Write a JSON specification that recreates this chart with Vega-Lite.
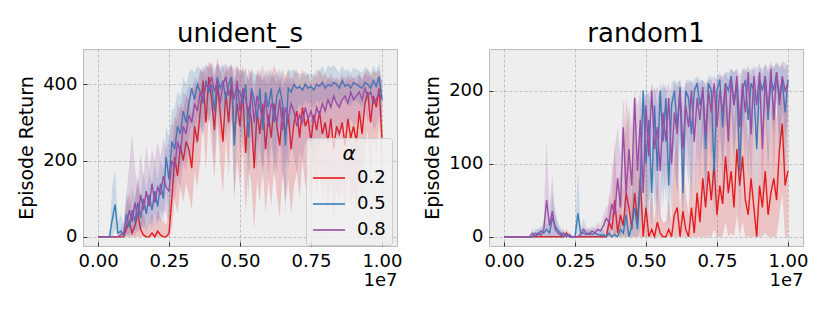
{
"$schema": "https://vega.github.io/schema/vega-lite/v6.json",
"background": "white",
"padding": {"left": 17, "top": 20, "right": 20, "bottom": 14},
"datasets": {
"u": [
{"s":0,"r":0,"rl":0,"rh":0,"b":0,"bl":0,"bh":0,"p":0,"pl":0,"ph":0},
{"s":100000,"r":0,"rl":0,"rh":0,"b":0,"bl":0,"bh":0,"p":0,"pl":0,"ph":0},
{"s":200000,"r":0,"rl":0,"rh":0,"b":0,"bl":0,"bh":0,"p":0,"pl":0,"ph":0},
{"s":300000,"r":0,"rl":0,"rh":0,"b":0,"bl":0,"bh":0,"p":0,"pl":0,"ph":0},
{"s":400000,"r":0,"rl":0,"rh":0,"b":0,"bl":0,"bh":0,"p":0,"pl":0,"ph":0},
{"s":500000,"r":0,"rl":0,"rh":0,"b":45,"bl":0,"bh":130,"p":0,"pl":0,"ph":0},
{"s":600000,"r":0,"rl":0,"rh":0,"b":85,"bl":20,"bh":175,"p":0,"pl":0,"ph":0},
{"s":700000,"r":0,"rl":0,"rh":0,"b":10,"bl":0,"bh":40,"p":0,"pl":0,"ph":0},
{"s":800000,"r":0,"rl":0,"rh":0,"b":15,"bl":0,"bh":60,"p":5,"pl":0,"ph":20},
{"s":900000,"r":0,"rl":0,"rh":0,"b":5,"bl":0,"bh":30,"p":10,"pl":0,"ph":40},
{"s":1000000,"r":20,"rl":0,"rh":80,"b":60,"bl":10,"bh":120,"p":30,"pl":0,"ph":110},
{"s":1100000,"r":40,"rl":0,"rh":120,"b":25,"bl":0,"bh":80,"p":70,"pl":10,"ph":190},
{"s":1200000,"r":10,"rl":0,"rh":60,"b":70,"bl":20,"bh":130,"p":40,"pl":0,"ph":270},
{"s":1300000,"r":30,"rl":0,"rh":100,"b":40,"bl":0,"bh":100,"p":90,"pl":20,"ph":180},
{"s":1400000,"r":60,"rl":0,"rh":150,"b":90,"bl":30,"bh":150,"p":50,"pl":10,"ph":140},
{"s":1500000,"r":20,"rl":0,"rh":90,"b":50,"bl":10,"bh":110,"p":110,"pl":30,"ph":220},
{"s":1600000,"r":5,"rl":0,"rh":60,"b":100,"bl":40,"bh":170,"p":70,"pl":20,"ph":160},
{"s":1700000,"r":0,"rl":0,"rh":30,"b":60,"bl":10,"bh":120,"p":120,"pl":40,"ph":240},
{"s":1800000,"r":0,"rl":0,"rh":40,"b":110,"bl":50,"bh":170,"p":80,"pl":30,"ph":180},
{"s":1900000,"r":10,"rl":0,"rh":60,"b":70,"bl":20,"bh":140,"p":140,"pl":50,"ph":230},
{"s":2000000,"r":0,"rl":0,"rh":30,"b":120,"bl":60,"bh":190,"p":90,"pl":30,"ph":200},
{"s":2100000,"r":15,"rl":0,"rh":70,"b":80,"bl":30,"bh":150,"p":130,"pl":50,"ph":250},
{"s":2200000,"r":5,"rl":0,"rh":50,"b":140,"bl":70,"bh":200,"p":110,"pl":40,"ph":210},
{"s":2300000,"r":0,"rl":0,"rh":40,"b":100,"bl":40,"bh":180,"p":160,"pl":70,"ph":260},
{"s":2400000,"r":0,"rl":0,"rh":30,"b":210,"bl":120,"bh":290,"p":130,"pl":60,"ph":230},
{"s":2500000,"r":10,"rl":0,"rh":80,"b":150,"bl":60,"bh":260,"p":120,"pl":40,"ph":250},
{"s":2600000,"r":100,"rl":20,"rh":220,"b":250,"bl":150,"bh":330,"p":200,"pl":110,"ph":300},
{"s":2700000,"r":210,"rl":100,"rh":320,"b":230,"bl":140,"bh":340,"p":180,"pl":100,"ph":290},
{"s":2800000,"r":160,"rl":60,"rh":300,"b":290,"bl":190,"bh":380,"p":250,"pl":150,"ph":350},
{"s":2900000,"r":240,"rl":130,"rh":350,"b":270,"bl":170,"bh":370,"p":220,"pl":130,"ph":330},
{"s":3000000,"r":200,"rl":90,"rh":330,"b":330,"bl":230,"bh":420,"p":290,"pl":190,"ph":380},
{"s":3100000,"r":250,"rl":140,"rh":370,"b":300,"bl":200,"bh":400,"p":270,"pl":170,"ph":370},
{"s":3200000,"r":230,"rl":110,"rh":360,"b":350,"bl":260,"bh":430,"p":320,"pl":220,"ph":400},
{"s":3300000,"r":180,"rl":70,"rh":320,"b":390,"bl":300,"bh":440,"p":300,"pl":200,"ph":390},
{"s":3400000,"r":290,"rl":170,"rh":400,"b":360,"bl":270,"bh":430,"p":350,"pl":250,"ph":420},
{"s":3500000,"r":250,"rl":130,"rh":390,"b":400,"bl":320,"bh":450,"p":330,"pl":240,"ph":410},
{"s":3600000,"r":330,"rl":200,"rh":430,"b":380,"bl":300,"bh":440,"p":380,"pl":290,"ph":440},
{"s":3700000,"r":410,"rl":320,"rh":450,"b":350,"bl":260,"bh":430,"p":360,"pl":270,"ph":430},
{"s":3800000,"r":300,"rl":170,"rh":420,"b":410,"bl":340,"bh":455,"p":400,"pl":320,"ph":450},
{"s":3900000,"r":420,"rl":330,"rh":460,"b":380,"bl":300,"bh":440,"p":390,"pl":300,"ph":445},
{"s":4000000,"r":360,"rl":240,"rh":450,"b":400,"bl":330,"bh":450,"p":420,"pl":340,"ph":460},
{"s":4100000,"r":280,"rl":150,"rh":410,"b":330,"bl":200,"bh":420,"p":380,"pl":290,"ph":440},
{"s":4200000,"r":400,"rl":300,"rh":470,"b":420,"bl":360,"bh":455,"p":410,"pl":330,"ph":455},
{"s":4300000,"r":330,"rl":200,"rh":440,"b":390,"bl":310,"bh":445,"p":350,"pl":250,"ph":430},
{"s":4400000,"r":250,"rl":110,"rh":400,"b":410,"bl":340,"bh":450,"p":400,"pl":320,"ph":450},
{"s":4500000,"r":380,"rl":260,"rh":450,"b":360,"bl":250,"bh":430,"p":420,"pl":350,"ph":455},
{"s":4600000,"r":300,"rl":160,"rh":430,"b":400,"bl":320,"bh":450,"p":370,"pl":270,"ph":440},
{"s":4700000,"r":410,"rl":310,"rh":455,"b":420,"bl":350,"bh":450,"p":400,"pl":310,"ph":450},
{"s":4800000,"r":260,"rl":110,"rh":410,"b":240,"bl":80,"bh":400,"p":360,"pl":250,"ph":440},
{"s":4900000,"r":350,"rl":200,"rh":450,"b":390,"bl":300,"bh":440,"p":410,"pl":330,"ph":450},
{"s":5000000,"r":290,"rl":130,"rh":430,"b":380,"bl":290,"bh":440,"p":330,"pl":220,"ph":420},
{"s":5100000,"r":380,"rl":240,"rh":450,"b":350,"bl":230,"bh":430,"p":390,"pl":300,"ph":440},
{"s":5200000,"r":220,"rl":60,"rh":390,"b":400,"bl":320,"bh":445,"p":360,"pl":260,"ph":430},
{"s":5300000,"r":340,"rl":180,"rh":440,"b":260,"bl":100,"bh":410,"p":320,"pl":200,"ph":410},
{"s":5400000,"r":310,"rl":140,"rh":430,"b":390,"bl":290,"bh":440,"p":380,"pl":280,"ph":440},
{"s":5500000,"r":180,"rl":20,"rh":370,"b":360,"bl":240,"bh":430,"p":300,"pl":170,"ph":400},
{"s":5600000,"r":330,"rl":150,"rh":440,"b":310,"bl":170,"bh":420,"p":370,"pl":260,"ph":430},
{"s":5700000,"r":270,"rl":90,"rh":420,"b":390,"bl":300,"bh":440,"p":340,"pl":220,"ph":420},
{"s":5800000,"r":350,"rl":190,"rh":450,"b":280,"bl":130,"bh":410,"p":310,"pl":180,"ph":410},
{"s":5900000,"r":230,"rl":60,"rh":400,"b":380,"bl":280,"bh":440,"p":360,"pl":250,"ph":430},
{"s":6000000,"r":320,"rl":150,"rh":440,"b":340,"bl":200,"bh":420,"p":290,"pl":160,"ph":400},
{"s":6100000,"r":260,"rl":80,"rh":420,"b":390,"bl":290,"bh":440,"p":350,"pl":240,"ph":420},
{"s":6200000,"r":350,"rl":180,"rh":450,"b":300,"bl":150,"bh":420,"p":330,"pl":210,"ph":420},
{"s":6300000,"r":290,"rl":110,"rh":430,"b":370,"bl":250,"bh":430,"p":300,"pl":170,"ph":400},
{"s":6400000,"r":240,"rl":50,"rh":410,"b":390,"bl":290,"bh":440,"p":360,"pl":250,"ph":430},
{"s":6500000,"r":340,"rl":170,"rh":440,"b":350,"bl":220,"bh":420,"p":280,"pl":140,"ph":390},
{"s":6600000,"r":270,"rl":90,"rh":420,"b":240,"bl":60,"bh":400,"p":340,"pl":220,"ph":420},
{"s":6700000,"r":320,"rl":150,"rh":440,"b":390,"bl":290,"bh":440,"p":310,"pl":180,"ph":410},
{"s":6800000,"r":230,"rl":60,"rh":400,"b":380,"bl":280,"bh":435,"p":350,"pl":240,"ph":420},
{"s":6900000,"r":300,"rl":130,"rh":430,"b":400,"bl":320,"bh":440,"p":330,"pl":210,"ph":410},
{"s":7000000,"r":330,"rl":170,"rh":440,"b":390,"bl":330,"bh":430,"p":290,"pl":170,"ph":390},
{"s":7100000,"r":260,"rl":100,"rh":410,"b":395,"bl":350,"bh":430,"p":320,"pl":220,"ph":400},
{"s":7200000,"r":340,"rl":200,"rh":440,"b":385,"bl":340,"bh":425,"p":300,"pl":200,"ph":390},
{"s":7300000,"r":290,"rl":130,"rh":420,"b":400,"bl":360,"bh":435,"p":340,"pl":250,"ph":410},
{"s":7400000,"r":310,"rl":160,"rh":430,"b":390,"bl":350,"bh":425,"p":310,"pl":210,"ph":395},
{"s":7500000,"r":250,"rl":80,"rh":400,"b":395,"bl":350,"bh":430,"p":330,"pl":240,"ph":405},
{"s":7600000,"r":320,"rl":170,"rh":430,"b":385,"bl":340,"bh":420,"p":300,"pl":200,"ph":390},
{"s":7700000,"r":280,"rl":110,"rh":420,"b":400,"bl":360,"bh":440,"p":340,"pl":250,"ph":410},
{"s":7800000,"r":330,"rl":180,"rh":440,"b":395,"bl":350,"bh":435,"p":320,"pl":230,"ph":400},
{"s":7900000,"r":270,"rl":90,"rh":420,"b":405,"bl":360,"bh":450,"p":350,"pl":270,"ph":415},
{"s":8000000,"r":300,"rl":140,"rh":430,"b":390,"bl":345,"bh":430,"p":330,"pl":250,"ph":400},
{"s":8100000,"r":250,"rl":60,"rh":410,"b":400,"bl":355,"bh":450,"p":360,"pl":280,"ph":420},
{"s":8200000,"r":310,"rl":150,"rh":430,"b":395,"bl":350,"bh":445,"p":340,"pl":260,"ph":410},
{"s":8300000,"r":230,"rl":40,"rh":400,"b":405,"bl":360,"bh":450,"p":370,"pl":300,"ph":420},
{"s":8400000,"r":290,"rl":120,"rh":420,"b":400,"bl":355,"bh":440,"p":350,"pl":270,"ph":410},
{"s":8500000,"r":270,"rl":90,"rh":410,"b":390,"bl":340,"bh":430,"p":340,"pl":260,"ph":400},
{"s":8600000,"r":300,"rl":140,"rh":430,"b":410,"bl":370,"bh":450,"p":360,"pl":290,"ph":415},
{"s":8700000,"r":240,"rl":60,"rh":400,"b":395,"bl":350,"bh":435,"p":370,"pl":300,"ph":420},
{"s":8800000,"r":310,"rl":160,"rh":430,"b":400,"bl":355,"bh":440,"p":350,"pl":280,"ph":410},
{"s":8900000,"r":260,"rl":80,"rh":410,"b":390,"bl":340,"bh":430,"p":380,"pl":310,"ph":425},
{"s":9000000,"r":290,"rl":120,"rh":420,"b":405,"bl":360,"bh":445,"p":360,"pl":290,"ph":415},
{"s":9100000,"r":250,"rl":60,"rh":400,"b":400,"bl":355,"bh":440,"p":370,"pl":300,"ph":420},
{"s":9200000,"r":330,"rl":180,"rh":430,"b":395,"bl":350,"bh":435,"p":380,"pl":320,"ph":425},
{"s":9300000,"r":270,"rl":90,"rh":410,"b":390,"bl":340,"bh":430,"p":360,"pl":290,"ph":415},
{"s":9400000,"r":350,"rl":220,"rh":430,"b":405,"bl":360,"bh":445,"p":390,"pl":330,"ph":430},
{"s":9500000,"r":380,"rl":280,"rh":440,"b":400,"bl":355,"bh":440,"p":370,"pl":300,"ph":420},
{"s":9600000,"r":300,"rl":150,"rh":420,"b":390,"bl":345,"bh":430,"p":380,"pl":320,"ph":425},
{"s":9700000,"r":370,"rl":260,"rh":435,"b":410,"bl":370,"bh":450,"p":350,"pl":280,"ph":410},
{"s":9800000,"r":340,"rl":210,"rh":430,"b":395,"bl":350,"bh":435,"p":360,"pl":290,"ph":415},
{"s":9900000,"r":390,"rl":300,"rh":440,"b":420,"bl":380,"bh":455,"p":380,"pl":320,"ph":425},
{"s":10000000,"r":260,"rl":100,"rh":400,"b":360,"bl":310,"bh":410,"p":360,"pl":300,"ph":410}
],
"r": [
{"s":0,"r":0,"rl":0,"rh":0,"b":0,"bl":0,"bh":0,"p":0,"pl":0,"ph":0},
{"s":100000,"r":0,"rl":0,"rh":0,"b":0,"bl":0,"bh":0,"p":0,"pl":0,"ph":0},
{"s":200000,"r":0,"rl":0,"rh":0,"b":0,"bl":0,"bh":0,"p":0,"pl":0,"ph":0},
{"s":300000,"r":0,"rl":0,"rh":0,"b":0,"bl":0,"bh":0,"p":0,"pl":0,"ph":0},
{"s":400000,"r":0,"rl":0,"rh":0,"b":0,"bl":0,"bh":0,"p":0,"pl":0,"ph":0},
{"s":500000,"r":0,"rl":0,"rh":0,"b":0,"bl":0,"bh":0,"p":0,"pl":0,"ph":0},
{"s":600000,"r":0,"rl":0,"rh":0,"b":0,"bl":0,"bh":0,"p":0,"pl":0,"ph":0},
{"s":700000,"r":0,"rl":0,"rh":0,"b":0,"bl":0,"bh":0,"p":0,"pl":0,"ph":0},
{"s":800000,"r":0,"rl":0,"rh":0,"b":0,"bl":0,"bh":0,"p":0,"pl":0,"ph":0},
{"s":900000,"r":0,"rl":0,"rh":0,"b":0,"bl":0,"bh":0,"p":0,"pl":0,"ph":0},
{"s":1000000,"r":0,"rl":0,"rh":0,"b":0,"bl":0,"bh":0,"p":5,"pl":0,"ph":12},
{"s":1100000,"r":0,"rl":0,"rh":0,"b":5,"bl":0,"bh":12,"p":0,"pl":0,"ph":0},
{"s":1200000,"r":0,"rl":0,"rh":0,"b":3,"bl":0,"bh":10,"p":5,"pl":0,"ph":12},
{"s":1300000,"r":0,"rl":0,"rh":0,"b":8,"bl":0,"bh":15,"p":2,"pl":0,"ph":8},
{"s":1400000,"r":0,"rl":0,"rh":0,"b":5,"bl":0,"bh":12,"p":10,"pl":0,"ph":25},
{"s":1500000,"r":0,"rl":0,"rh":0,"b":10,"bl":0,"bh":20,"p":50,"pl":0,"ph":135},
{"s":1600000,"r":0,"rl":0,"rh":0,"b":5,"bl":0,"bh":12,"p":15,"pl":0,"ph":40},
{"s":1700000,"r":0,"rl":0,"rh":0,"b":25,"bl":0,"bh":60,"p":35,"pl":0,"ph":85},
{"s":1800000,"r":0,"rl":0,"rh":0,"b":15,"bl":0,"bh":35,"p":10,"pl":0,"ph":30},
{"s":1900000,"r":0,"rl":0,"rh":0,"b":8,"bl":0,"bh":20,"p":5,"pl":0,"ph":15},
{"s":2000000,"r":0,"rl":0,"rh":0,"b":5,"bl":0,"bh":12,"p":2,"pl":0,"ph":8},
{"s":2100000,"r":0,"rl":0,"rh":0,"b":0,"bl":0,"bh":0,"p":5,"pl":0,"ph":12},
{"s":2200000,"r":5,"rl":0,"rh":12,"b":3,"bl":0,"bh":8,"p":0,"pl":0,"ph":0},
{"s":2300000,"r":0,"rl":0,"rh":0,"b":0,"bl":0,"bh":0,"p":3,"pl":0,"ph":8},
{"s":2400000,"r":0,"rl":0,"rh":0,"b":0,"bl":0,"bh":0,"p":0,"pl":0,"ph":0},
{"s":2500000,"r":0,"rl":0,"rh":0,"b":0,"bl":0,"bh":0,"p":0,"pl":0,"ph":0},
{"s":2600000,"r":0,"rl":0,"rh":0,"b":32,"bl":0,"bh":95,"p":0,"pl":0,"ph":0},
{"s":2700000,"r":0,"rl":0,"rh":0,"b":5,"bl":0,"bh":12,"p":3,"pl":0,"ph":8},
{"s":2800000,"r":0,"rl":0,"rh":0,"b":5,"bl":0,"bh":12,"p":10,"pl":0,"ph":25},
{"s":2900000,"r":0,"rl":0,"rh":0,"b":3,"bl":0,"bh":10,"p":5,"pl":0,"ph":12},
{"s":3000000,"r":0,"rl":0,"rh":0,"b":5,"bl":0,"bh":12,"p":3,"pl":0,"ph":10},
{"s":3100000,"r":0,"rl":0,"rh":0,"b":3,"bl":0,"bh":8,"p":8,"pl":0,"ph":15},
{"s":3200000,"r":0,"rl":0,"rh":0,"b":5,"bl":0,"bh":12,"p":5,"pl":0,"ph":12},
{"s":3300000,"r":0,"rl":0,"rh":0,"b":3,"bl":0,"bh":10,"p":10,"pl":0,"ph":20},
{"s":3400000,"r":0,"rl":0,"rh":0,"b":2,"bl":0,"bh":8,"p":8,"pl":0,"ph":15},
{"s":3500000,"r":0,"rl":0,"rh":0,"b":3,"bl":0,"bh":10,"p":15,"pl":0,"ph":30},
{"s":3600000,"r":0,"rl":0,"rh":0,"b":0,"bl":0,"bh":0,"p":25,"pl":5,"ph":40},
{"s":3700000,"r":20,"rl":0,"rh":60,"b":5,"bl":0,"bh":12,"p":20,"pl":0,"ph":45},
{"s":3800000,"r":10,"rl":0,"rh":40,"b":0,"bl":0,"bh":0,"p":45,"pl":10,"ph":90},
{"s":3900000,"r":50,"rl":0,"rh":130,"b":3,"bl":0,"bh":10,"p":30,"pl":0,"ph":120},
{"s":4000000,"r":5,"rl":0,"rh":30,"b":0,"bl":0,"bh":0,"p":80,"pl":20,"ph":150},
{"s":4100000,"r":30,"rl":0,"rh":90,"b":10,"bl":0,"bh":30,"p":40,"pl":0,"ph":110},
{"s":4200000,"r":15,"rl":0,"rh":60,"b":5,"bl":0,"bh":15,"p":150,"pl":60,"ph":190},
{"s":4300000,"r":60,"rl":0,"rh":190,"b":30,"bl":0,"bh":80,"p":60,"pl":10,"ph":140},
{"s":4400000,"r":40,"rl":0,"rh":150,"b":0,"bl":0,"bh":0,"p":120,"pl":40,"ph":180},
{"s":4500000,"r":10,"rl":0,"rh":50,"b":15,"bl":0,"bh":50,"p":70,"pl":10,"ph":150},
{"s":4600000,"r":60,"rl":0,"rh":160,"b":40,"bl":0,"bh":110,"p":190,"pl":100,"ph":200},
{"s":4700000,"r":20,"rl":0,"rh":80,"b":10,"bl":0,"bh":40,"p":90,"pl":20,"ph":180},
{"s":4800000,"r":80,"rl":0,"rh":190,"b":70,"bl":10,"bh":160,"p":160,"pl":60,"ph":200},
{"s":4900000,"r":0,"rl":0,"rh":20,"b":200,"bl":120,"bh":200,"p":60,"pl":10,"ph":160},
{"s":5000000,"r":40,"rl":0,"rh":140,"b":100,"bl":20,"bh":190,"p":180,"pl":100,"ph":205},
{"s":5100000,"r":0,"rl":0,"rh":30,"b":160,"bl":60,"bh":200,"p":110,"pl":30,"ph":190},
{"s":5200000,"r":10,"rl":0,"rh":60,"b":60,"bl":10,"bh":150,"p":200,"pl":140,"ph":210},
{"s":5300000,"r":0,"rl":0,"rh":20,"b":180,"bl":90,"bh":205,"p":120,"pl":40,"ph":200},
{"s":5400000,"r":20,"rl":0,"rh":80,"b":90,"bl":20,"bh":180,"p":150,"pl":60,"ph":205},
{"s":5500000,"r":5,"rl":0,"rh":30,"b":200,"bl":130,"bh":210,"p":90,"pl":20,"ph":190},
{"s":5600000,"r":0,"rl":0,"rh":20,"b":130,"bl":40,"bh":200,"p":170,"pl":90,"ph":210},
{"s":5700000,"r":0,"rl":0,"rh":20,"b":190,"bl":100,"bh":210,"p":130,"pl":50,"ph":200},
{"s":5800000,"r":10,"rl":0,"rh":50,"b":70,"bl":10,"bh":170,"p":190,"pl":120,"ph":210},
{"s":5900000,"r":0,"rl":0,"rh":20,"b":180,"bl":90,"bh":210,"p":100,"pl":30,"ph":190},
{"s":6000000,"r":30,"rl":0,"rh":110,"b":200,"bl":130,"bh":215,"p":170,"pl":90,"ph":210},
{"s":6100000,"r":40,"rl":0,"rh":140,"b":150,"bl":60,"bh":210,"p":140,"pl":60,"ph":205},
{"s":6200000,"r":0,"rl":0,"rh":30,"b":205,"bl":150,"bh":215,"p":200,"pl":140,"ph":215},
{"s":6300000,"r":35,"rl":0,"rh":120,"b":60,"bl":10,"bh":170,"p":120,"pl":40,"ph":200},
{"s":6400000,"r":10,"rl":0,"rh":60,"b":200,"bl":140,"bh":215,"p":180,"pl":110,"ph":210},
{"s":6500000,"r":0,"rl":0,"rh":30,"b":190,"bl":110,"bh":215,"p":150,"pl":70,"ph":210},
{"s":6600000,"r":40,"rl":0,"rh":150,"b":140,"bl":50,"bh":210,"p":200,"pl":140,"ph":215},
{"s":6700000,"r":5,"rl":0,"rh":40,"b":200,"bl":140,"bh":215,"p":130,"pl":50,"ph":205},
{"s":6800000,"r":60,"rl":0,"rh":170,"b":210,"bl":160,"bh":220,"p":190,"pl":120,"ph":215},
{"s":6900000,"r":20,"rl":0,"rh":90,"b":180,"bl":100,"bh":215,"p":160,"pl":80,"ph":210},
{"s":7000000,"r":80,"rl":0,"rh":190,"b":200,"bl":140,"bh":215,"p":205,"pl":150,"ph":215},
{"s":7100000,"r":40,"rl":0,"rh":150,"b":120,"bl":40,"bh":205,"p":140,"pl":60,"ph":210},
{"s":7200000,"r":90,"rl":0,"rh":200,"b":210,"bl":160,"bh":220,"p":200,"pl":140,"ph":215},
{"s":7300000,"r":50,"rl":0,"rh":160,"b":200,"bl":140,"bh":220,"p":170,"pl":100,"ph":215},
{"s":7400000,"r":100,"rl":10,"rh":200,"b":90,"bl":20,"bh":190,"p":210,"pl":160,"ph":220},
{"s":7500000,"r":30,"rl":0,"rh":130,"b":200,"bl":140,"bh":220,"p":150,"pl":70,"ph":215},
{"s":7600000,"r":70,"rl":0,"rh":180,"b":215,"bl":170,"bh":225,"p":200,"pl":140,"ph":220},
{"s":7700000,"r":45,"rl":0,"rh":160,"b":150,"bl":60,"bh":215,"p":170,"pl":100,"ph":220},
{"s":7800000,"r":110,"rl":20,"rh":200,"b":210,"bl":160,"bh":225,"p":210,"pl":160,"ph":225},
{"s":7900000,"r":60,"rl":0,"rh":170,"b":200,"bl":140,"bh":225,"p":130,"pl":50,"ph":215},
{"s":8000000,"r":90,"rl":5,"rh":200,"b":220,"bl":180,"bh":230,"p":215,"pl":170,"ph":230},
{"s":8100000,"r":40,"rl":0,"rh":150,"b":180,"bl":100,"bh":225,"p":180,"pl":110,"ph":225},
{"s":8200000,"r":120,"rl":30,"rh":205,"b":210,"bl":160,"bh":230,"p":220,"pl":180,"ph":230},
{"s":8300000,"r":70,"rl":0,"rh":180,"b":90,"bl":20,"bh":200,"p":150,"pl":70,"ph":220},
{"s":8400000,"r":110,"rl":20,"rh":200,"b":200,"bl":140,"bh":230,"p":210,"pl":160,"ph":230},
{"s":8500000,"r":50,"rl":0,"rh":160,"b":215,"bl":170,"bh":230,"p":170,"pl":100,"ph":225},
{"s":8600000,"r":30,"rl":0,"rh":130,"b":160,"bl":80,"bh":225,"p":225,"pl":190,"ph":235},
{"s":8700000,"r":80,"rl":0,"rh":190,"b":210,"bl":160,"bh":230,"p":140,"pl":60,"ph":220},
{"s":8800000,"r":40,"rl":0,"rh":150,"b":200,"bl":140,"bh":230,"p":220,"pl":180,"ph":235},
{"s":8900000,"r":0,"rl":0,"rh":40,"b":120,"bl":40,"bh":215,"p":180,"pl":110,"ph":230},
{"s":9000000,"r":70,"rl":0,"rh":180,"b":215,"bl":170,"bh":232,"p":225,"pl":190,"ph":238},
{"s":9100000,"r":40,"rl":0,"rh":150,"b":200,"bl":140,"bh":230,"p":120,"pl":40,"ph":220},
{"s":9200000,"r":90,"rl":5,"rh":200,"b":220,"bl":180,"bh":235,"p":220,"pl":180,"ph":238},
{"s":9300000,"r":30,"rl":0,"rh":120,"b":160,"bl":80,"bh":225,"p":170,"pl":100,"ph":230},
{"s":9400000,"r":60,"rl":0,"rh":170,"b":215,"bl":170,"bh":235,"p":230,"pl":200,"ph":240},
{"s":9500000,"r":80,"rl":0,"rh":190,"b":200,"bl":140,"bh":232,"p":160,"pl":80,"ph":230},
{"s":9600000,"r":50,"rl":0,"rh":160,"b":225,"bl":190,"bh":238,"p":225,"pl":190,"ph":240},
{"s":9700000,"r":120,"rl":30,"rh":205,"b":190,"bl":110,"bh":232,"p":180,"pl":110,"ph":232},
{"s":9800000,"r":155,"rl":60,"rh":210,"b":215,"bl":170,"bh":235,"p":220,"pl":180,"ph":240},
{"s":9900000,"r":70,"rl":0,"rh":180,"b":170,"bl":90,"bh":230,"p":200,"pl":140,"ph":238},
{"s":10000000,"r":90,"rl":0,"rh":200,"b":215,"bl":170,"bh":235,"p":210,"pl":160,"ph":235}
]
},
"config": {
  "font": "DejaVu Sans",
  "view": {"fill": "#eeeeee", "stroke": "#bcbcbc", "strokeWidth": 1},
  "axis": {
    "grid": true, "gridColor": "#b2b2b2", "gridDash": [3, 2], "gridWidth": 0.8,
    "domain": false, "tickColor": "#333333", "tickSize": -4, "tickWidth": 1,
    "labelFont": "DejaVu Sans", "labelFontSize": 18, "labelColor": "#000000", "labelFlush": false,
    "titleFont": "DejaVu Sans", "titleFontSize": 19, "titleFontWeight": "normal", "titleColor": "#000000"
  },
  "title": {"font": "DejaVu Sans", "fontSize": 26, "fontWeight": "normal", "color": "#000000", "offset": 2},
  "concat": {"spacing": 20}
},
"resolve": {"scale": {"color": "independent"}, "legend": {"color": "independent"}},
"hconcat": [
{
  "title": "unident_s",
  "width": 314, "height": 197,
  "data": {"name": "u"},
  "encoding": {
    "x": {"field": "s", "type": "quantitative",
      "scale": {"domain": [-530000, 10530000], "nice": false, "zero": false},
      "axis": {"values": [0, 2500000, 5000000, 7500000, 10000000], "labelExpr": "format(datum.value/1e7, '.2f')", "title": "1e7", "titleAnchor": "end", "titleAlign": "right", "titleFontSize": 18, "titlePadding": 1, "labelPadding": 10}}
  },
  "layer": [
    {"mark": {"type": "area", "color": "#e41a1c", "opacity": 0.2}, "encoding": {
      "y": {"field": "rl", "type": "quantitative", "scale": {"domain": [-24, 493], "nice": false, "zero": false}, "axis": {"values": [0, 200, 400], "title": "Episode Return", "titlePadding": 6, "labelPadding": 10}},
      "y2": {"field": "rh"}}},
    {"mark": {"type": "line", "strokeWidth": 1.4}, "encoding": {
      "y": {"field": "r", "type": "quantitative", "title": "Episode Return"},
      "color": {"datum": "0.2", "type": "nominal", "scale": {"domain": ["0.2", "0.5", "0.8"], "range": ["#e41a1c", "#377eb8", "#984ea3"]},
        "legend": {"orient": "none", "legendX": 223, "legendY": 89, "title": "α",
          "titleFontSize": 20, "titleFontStyle": "italic", "titleFontWeight": "normal", "titleAnchor": "middle", "titleColor": "#000000", "titlePadding": -3,
          "labelFontSize": 18, "labelColor": "#000000", "labelOffset": 11, "symbolType": "stroke", "symbolSize": 1024, "symbolStrokeWidth": 1.6, "rowPadding": -5,
          "padding": 6, "fillColor": "rgba(240,240,240,0.8)", "strokeColor": "#cccccc", "cornerRadius": 3}}}},
    {"mark": {"type": "area", "color": "#377eb8", "opacity": 0.2}, "encoding": {
      "y": {"field": "bl", "type": "quantitative", "title": "Episode Return"}, "y2": {"field": "bh"}}},
    {"mark": {"type": "line", "strokeWidth": 1.4}, "encoding": {
      "y": {"field": "b", "type": "quantitative", "title": "Episode Return"},
      "color": {"datum": "0.5", "type": "nominal"}}},
    {"mark": {"type": "area", "color": "#984ea3", "opacity": 0.2}, "encoding": {
      "y": {"field": "pl", "type": "quantitative", "title": "Episode Return"}, "y2": {"field": "ph"}}},
    {"mark": {"type": "line", "strokeWidth": 1.4}, "encoding": {
      "y": {"field": "p", "type": "quantitative", "title": "Episode Return"},
      "color": {"datum": "0.8", "type": "nominal"}}}
  ]
},
{
  "title": "random1",
  "width": 314, "height": 197,
  "data": {"name": "r"},
  "encoding": {
    "x": {"field": "s", "type": "quantitative",
      "scale": {"domain": [-530000, 10530000], "nice": false, "zero": false},
      "axis": {"values": [0, 2500000, 5000000, 7500000, 10000000], "labelExpr": "format(datum.value/1e7, '.2f')", "title": "1e7", "titleAnchor": "end", "titleAlign": "right", "titleFontSize": 18, "titlePadding": 1, "labelPadding": 10}}
  },
  "layer": [
    {"mark": {"type": "area", "color": "#e41a1c", "opacity": 0.2}, "encoding": {
      "y": {"field": "rl", "type": "quantitative", "scale": {"domain": [-12.7, 257], "nice": false, "zero": false}, "axis": {"values": [0, 100, 200], "title": "Episode Return", "titlePadding": 6, "labelPadding": 10}},
      "y2": {"field": "rh"}}},
    {"mark": {"type": "line", "strokeWidth": 1.4}, "encoding": {
      "y": {"field": "r", "type": "quantitative", "title": "Episode Return"},
      "color": {"datum": "0.2", "type": "nominal", "scale": {"domain": ["0.2", "0.5", "0.8"], "range": ["#e41a1c", "#377eb8", "#984ea3"]}, "legend": null}}},
    {"mark": {"type": "area", "color": "#377eb8", "opacity": 0.2}, "encoding": {
      "y": {"field": "bl", "type": "quantitative", "title": "Episode Return"}, "y2": {"field": "bh"}}},
    {"mark": {"type": "line", "strokeWidth": 1.4}, "encoding": {
      "y": {"field": "b", "type": "quantitative", "title": "Episode Return"},
      "color": {"datum": "0.5", "type": "nominal", "legend": null}}},
    {"mark": {"type": "area", "color": "#984ea3", "opacity": 0.2}, "encoding": {
      "y": {"field": "pl", "type": "quantitative", "title": "Episode Return"}, "y2": {"field": "ph"}}},
    {"mark": {"type": "line", "strokeWidth": 1.4}, "encoding": {
      "y": {"field": "p", "type": "quantitative", "title": "Episode Return"},
      "color": {"datum": "0.8", "type": "nominal", "legend": null}}}
  ]
}
]
}
